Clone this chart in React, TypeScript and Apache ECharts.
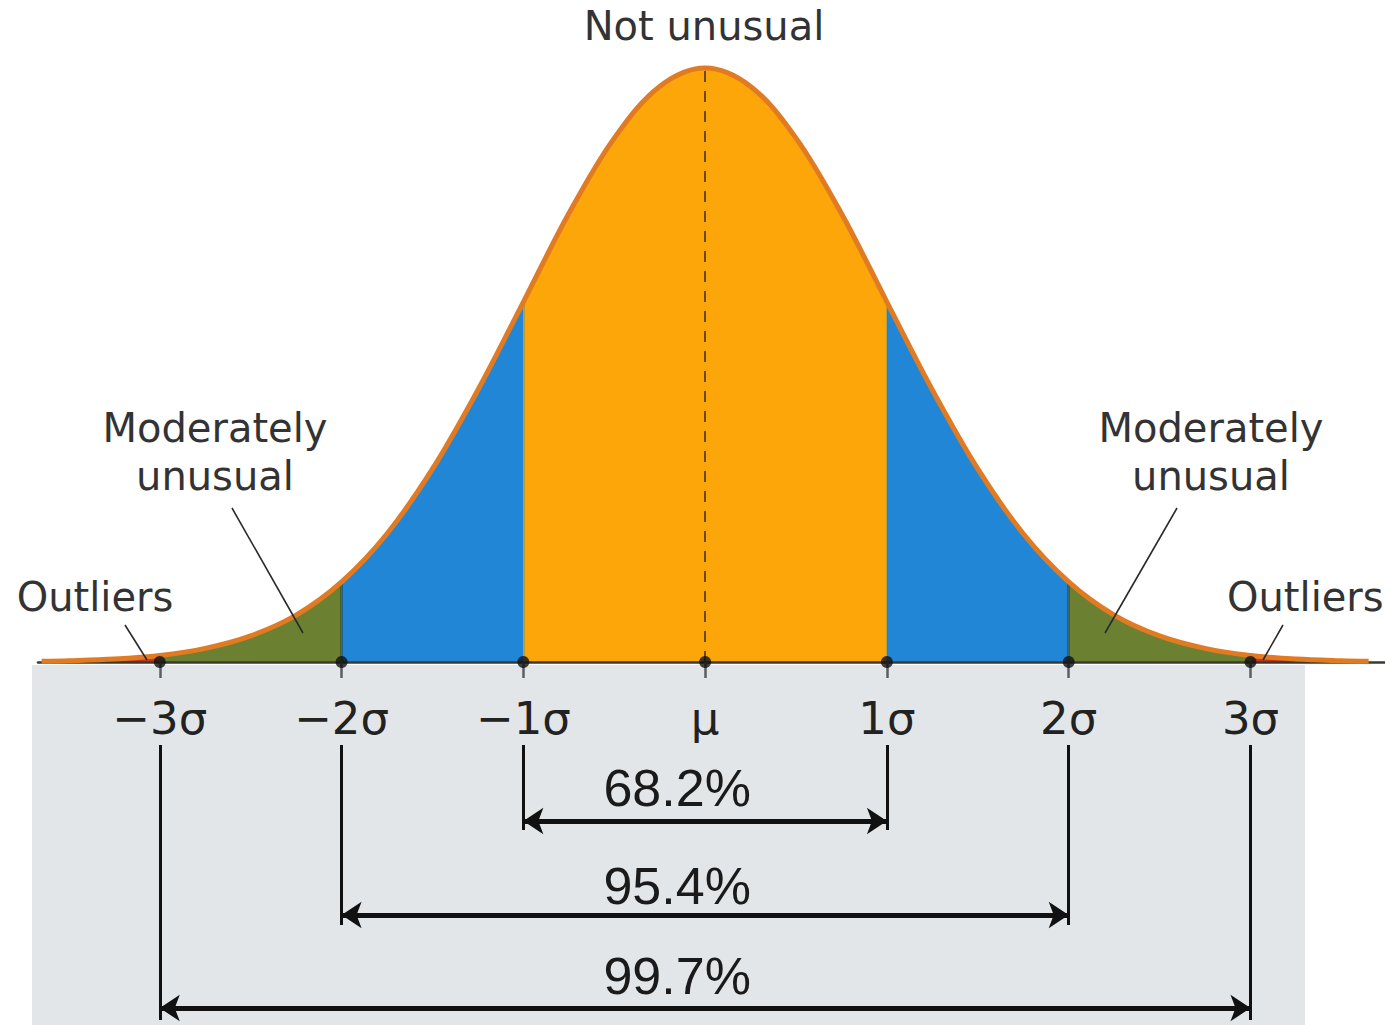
import React, { useEffect, useRef } from "react";
import * as echarts from "echarts";

// ---- data ----
const sigmaPositions = [-3, -2, -1, 0, 1, 2, 3];
const tickLabels = ["−3σ", "−2σ", "−1σ", "μ", "1σ", "2σ", "3σ"];
// curve (height relative to the peak = 100), x in σ units
const curveX = [-3.65, -3.5, -3.25, -3, -2.75, -2.5, -2.25, -2, -1.75, -1.5, -1.25, -1, -0.75, -0.5, -0.25, 0,
  0.25, 0.5, 0.75, 1, 1.25, 1.5, 1.75, 2, 2.25, 2.5, 2.75, 3, 3.25, 3.5, 3.65];
const curveY = [0.13, 0.22, 0.5, 1.1, 2.3, 4.4, 7.9, 13.5, 21.6, 32.5, 45.8, 60.6, 75.5, 88.2, 96.9, 100,
  96.9, 88.2, 75.5, 60.6, 45.8, 32.5, 21.6, 13.5, 7.9, 4.4, 2.3, 1.1, 0.5, 0.22, 0.13];
const bracketHalfWidths = [1, 2, 3];
const bracketLabels = ["68.2%", "95.4%", "99.7%"];
const notUnusualLabel = "Not unusual";
const moderatelyLabel = ["Moderately", "unusual"];
const outliersLabel = "Outliers";

// ---- layout / style (not data) ----
const W = 1385;
const H = 1025;
const X_MIN = -3.67;
const X_MAX = 3.74;
const GRID_LEFT = 38;
const BASE_Y = 662;
const PEAK_Y = 68;
const LOWER_TOP = 665;
const LOWER_H = 360;
// rows of the lower panel, in px from its top
const VLINE_START = 80;
const ARROW_ROWS = [156, 250, 343];
const VLINE_ENDS = [165, 260, 355];
const TEXT_ROWS = [123, 221, 311];

const C_ORANGE = "#FCA60A";
const C_BLUE = "#2186D6";
const C_OLIVE = "#6B8030";
const C_RED = "#C8321E";
const C_CURVE = "#E07B24";
const TXT = "#333333";
const ANN_FONT = "40px 'DejaVu Sans'";

const points = curveX.map((x, i) => [x, curveY[i]]);
const seg = (a: number, b: number) => points.filter((p) => p[0] >= a - 1e-9 && p[0] <= b + 1e-9);
const yAt = (x: number) => curveY[curveX.findIndex((v) => Math.abs(v - x) < 1e-9)];

const SMOOTH = 0.35;
const area = (data: number[][], color: string) => ({
  type: "line",
  xAxisIndex: 0,
  yAxisIndex: 0,
  data,
  smooth: SMOOTH,
  symbol: "none",
  silent: true,
  clip: false,
  lineStyle: { width: 0 },
  areaStyle: { color, opacity: 1 },
  z: 2,
});

export default function App() {
  const ref = useRef<HTMLDivElement>(null);
  useEffect(() => {
    if (!ref.current) return;
    const chart = echarts.init(ref.current, null, { renderer: "svg" });

    const boundaryLines = [
      ...[-2, 2].map((x) => ({ coords: [[x, 0], [x, yAt(x)]], lineStyle: { color: "#1c2a18", width: 2.5 } })),
      ...[-1, 1].map((x) => ({ coords: [[x, 0], [x, yAt(x)]], lineStyle: { color: "#3f8a78", width: 1.5 } })),
    ];

    const verticals: any[] = [];
    bracketHalfWidths.forEach((w, i) => {
      [-w, w].forEach((x) => verticals.push({ coords: [[x, VLINE_START], [x, VLINE_ENDS[i]]] }));
    });
    const arrows = bracketHalfWidths.map((w, i) => ({ coords: [[-w, ARROW_ROWS[i]], [w, ARROW_ROWS[i]]] }));

    const option: any = {
      animation: false,
      backgroundColor: "#ffffff",
      grid: [
        { left: GRID_LEFT, right: 0, top: PEAK_Y, bottom: H - BASE_Y },
        { left: GRID_LEFT, right: 0, top: LOWER_TOP, height: LOWER_H },
      ],
      xAxis: [
        {
          type: "value",
          gridIndex: 0,
          min: X_MIN,
          max: X_MAX,
          z: 3,
          splitLine: { show: false },
          axisLine: { show: true, onZero: false, lineStyle: { color: "#3a3a30", width: 2.5 } },
          axisTick: {
            show: true,
            customValues: sigmaPositions,
            length: 16,
            lineStyle: { color: "#5a5f66", width: 2.5 },
          },
          axisLabel: {
            show: true,
            customValues: sigmaPositions,
            margin: 34,
            fontFamily: "DejaVu Sans",
            fontSize: 45,
            color: "#222",
            formatter: (v: number) => tickLabels[sigmaPositions.indexOf(v)] ?? "",
          },
        },
        { type: "value", gridIndex: 1, min: X_MIN, max: X_MAX, show: false },
      ],
      yAxis: [
        { type: "value", gridIndex: 0, min: 0, max: 100, show: false, splitLine: { show: false } },
        { type: "value", gridIndex: 1, min: 0, max: LOWER_H, inverse: true, show: false, splitLine: { show: false } },
      ],
      series: [
        area(seg(-3.65, -3), C_RED),
        area(seg(3, 3.65), C_RED),
        area(seg(-3, -2), C_OLIVE),
        area(seg(2, 3), C_OLIVE),
        area(seg(-2, -1), C_BLUE),
        area(seg(1, 2), C_BLUE),
        area(seg(-1, 1), C_ORANGE),
        {
          type: "lines",
          coordinateSystem: "cartesian2d",
          xAxisIndex: 0,
          yAxisIndex: 0,
          silent: true,
          z: 3,
          data: boundaryLines,
        },
        {
          type: "line",
          xAxisIndex: 0,
          yAxisIndex: 0,
          data: points,
          smooth: SMOOTH,
          symbol: "none",
          silent: true,
          clip: false,
          lineStyle: { color: C_CURVE, width: 5 },
          z: 5,
          markLine: {
            silent: true,
            symbol: "none",
            label: { show: false },
            lineStyle: { color: "#6b4a12", width: 2, type: [11, 9] },
            data: [[{ coord: [0, 0] }, { coord: [0, 100] }]],
          },
        },
        {
          type: "scatter",
          xAxisIndex: 0,
          yAxisIndex: 0,
          data: sigmaPositions.map((x) => [x, 0]),
          symbolSize: 12,
          itemStyle: { color: "#111" },
          silent: true,
          clip: false,
          z: 6,
        },
        {
          type: "lines",
          coordinateSystem: "cartesian2d",
          xAxisIndex: 1,
          yAxisIndex: 1,
          silent: true,
          lineStyle: { color: "#111", width: 3, opacity: 1 },
          data: verticals,
          z: 4,
        },
        {
          type: "lines",
          coordinateSystem: "cartesian2d",
          xAxisIndex: 1,
          yAxisIndex: 1,
          silent: true,
          symbol: ["arrow", "arrow"],
          symbolSize: 20,
          lineStyle: { color: "#111", width: 5, opacity: 1 },
          data: arrows,
          z: 4,
        },
        {
          type: "scatter",
          xAxisIndex: 1,
          yAxisIndex: 1,
          silent: true,
          symbol: "circle",
          symbolSize: 1,
          itemStyle: { color: "#e2e6e8" },
          data: bracketLabels.map((t, i) => ({ value: [0, TEXT_ROWS[i]], name: t })),
          label: {
            show: true,
            position: "inside",
            offset: [-28, 0],
            formatter: (p: any) => p.name,
            fontFamily: "Liberation Sans",
            fontSize: 52,
            color: "#1a1a1a",
            opacity: 1,
            textBorderWidth: 0,
            textBorderColor: "transparent",
          },
          z: 5,
        },
      ],
      graphic: [
        {
          type: "rect",
          z: -10,
          silent: true,
          shape: { x: 32, y: LOWER_TOP, width: 1273, height: LOWER_H },
          style: { fill: "#E2E6E8" },
        },
        {
          type: "text",
          x: 704,
          y: 26,
          z: 50,
          style: { text: notUnusualLabel, font: ANN_FONT, fill: TXT, align: "center", verticalAlign: "middle" },
        },
        {
          type: "text",
          x: 215,
          y: 452,
          z: 50,
          style: { text: moderatelyLabel.join("\n"), font: ANN_FONT, lineHeight: 48, fill: TXT, align: "center", verticalAlign: "middle" },
        },
        {
          type: "text",
          x: 1211,
          y: 452,
          z: 50,
          style: { text: moderatelyLabel.join("\n"), font: ANN_FONT, lineHeight: 48, fill: TXT, align: "center", verticalAlign: "middle" },
        },
        {
          type: "text",
          x: 95,
          y: 597,
          z: 50,
          style: { text: outliersLabel, font: ANN_FONT, fill: TXT, align: "center", verticalAlign: "middle" },
        },
        {
          type: "text",
          x: 1227,
          y: 597,
          z: 50,
          style: { text: outliersLabel, font: ANN_FONT, fill: TXT, align: "left", verticalAlign: "middle" },
        },
        { type: "line", z: 50, shape: { x1: 232, y1: 508, x2: 303, y2: 633 }, style: { stroke: "#2a2a2a", lineWidth: 1.6 } },
        { type: "line", z: 50, shape: { x1: 125, y1: 625, x2: 147, y2: 660 }, style: { stroke: "#2a2a2a", lineWidth: 1.6 } },
        { type: "line", z: 50, shape: { x1: 1177, y1: 508, x2: 1105, y2: 633 }, style: { stroke: "#2a2a2a", lineWidth: 1.6 } },
        { type: "line", z: 50, shape: { x1: 1283, y1: 625, x2: 1263, y2: 660 }, style: { stroke: "#2a2a2a", lineWidth: 1.6 } },
      ],
    };

    chart.setOption(option);
    return () => chart.dispose();
  }, []);

  return (
    <div
      ref={ref}
      style={{ position: "absolute", left: 0, top: 0, width: W, height: H, background: "#fff" }}
    />
  );
}
